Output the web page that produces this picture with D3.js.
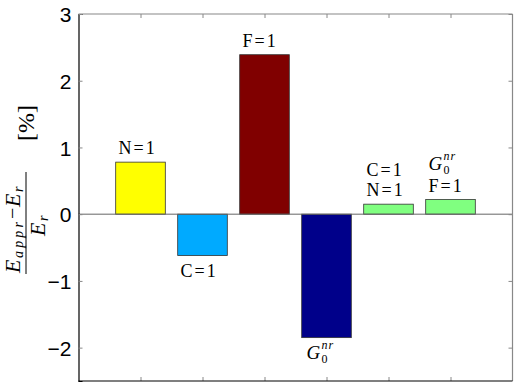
<!DOCTYPE html>
<html>
<head>
<meta charset="utf-8">
<script src="https://cdn.jsdelivr.net/npm/d3@7/dist/d3.min.js"></script>
<style>
  html, body { margin: 0; padding: 0; background: #fff; }
  svg { display: block; }
</style>
</head>
<body>
<svg id="chart" width="518" height="386"></svg>
<script>
// ---- data ----
const categories = [1, 2, 3, 4, 5, 6];
const values = [0.78, -0.62, 2.39, -1.85, 0.15, 0.22];
const barColors = ["#ffff00", "#00aaff", "#800000", "#00008a", "#80ff80", "#80ff80"];
// each label: list of lines; "G0nr" token drawn as G_0^{nr}
const barLabels = [["N=1"], ["C=1"], ["F=1"], ["G0nr"], ["C=1", "N=1"], ["G0nr", "F=1"]];
const yTicks = [-2, -1, 0, 1, 2, 3];
const xTicks = [1, 2, 3, 4, 5, 6];

(function () {
// ---- layout ----
const mLeft = 78.5, mRight = 512.5, mTop = 14, mBottom = 381;
const svg = d3.select("#chart");

const x = d3.scaleLinear().domain([0, 7]).range([mLeft, mRight]);
const y = d3.scaleLinear().domain([-2.5, 3]).range([mBottom, mTop]);
const barW = 0.8;

// bars
svg.append("g").selectAll("rect").data(values).join("rect")
  .attr("x", (d, i) => x(categories[i] - barW / 2))
  .attr("width", (d, i) => x(categories[i] + barW / 2) - x(categories[i] - barW / 2))
  .attr("y", d => y(Math.max(0, d)))
  .attr("height", d => Math.abs(y(d) - y(0)))
  .attr("fill", (d, i) => barColors[i])
  .attr("stroke", "#333")
  .attr("stroke-width", 0.8);

// zero baseline
svg.append("line")
  .attr("x1", mLeft).attr("x2", mRight)
  .attr("y1", y(0)).attr("y2", y(0))
  .attr("stroke", "#666").attr("stroke-width", 1);

// axes box: left/bottom black, top/right gray
svg.append("line").attr("x1", mLeft).attr("x2", mRight).attr("y1", mTop).attr("y2", mTop)
  .attr("stroke", "#888").attr("stroke-width", 1.2);
svg.append("line").attr("x1", mRight).attr("x2", mRight).attr("y1", mTop).attr("y2", mBottom)
  .attr("stroke", "#888").attr("stroke-width", 1.2);

// left axis (ticks inside)
const yAxis = d3.axisLeft(y).tickValues(yTicks).tickSize(-4).tickPadding(7)
  .tickFormat(d => d < 0 ? "\u2212" + Math.abs(d) : String(d));
const gy = svg.append("g").attr("transform", `translate(${mLeft},0)`).call(yAxis);
gy.select(".domain").attr("stroke", "#000").attr("stroke-width", 1.2);
gy.selectAll(".tick line").attr("stroke", "#888");
gy.selectAll(".tick text").attr("font-family", "'Liberation Sans', Arial, sans-serif")
  .attr("font-size", 21).attr("fill", "#000").attr("dy", "0.36em");
// right ticks
const gyr = svg.append("g").attr("transform", `translate(${mRight},0)`)
  .call(d3.axisRight(y).tickValues(yTicks).tickSize(-4).tickFormat(""));
gyr.select(".domain").remove();
gyr.selectAll(".tick line").attr("stroke", "#888");

// bottom axis (ticks inside, no labels)
const gx = svg.append("g").attr("transform", `translate(0,${mBottom})`)
  .call(d3.axisBottom(x).tickValues(xTicks).tickSize(-4).tickFormat(""));
gx.select(".domain").remove();
gx.selectAll(".tick line").attr("stroke", "#888");
svg.append("line").attr("x1", mLeft).attr("x2", mRight).attr("y1", mBottom).attr("y2", mBottom)
  .attr("stroke", "#000").attr("stroke-width", 1.2);
// top ticks
const gxt = svg.append("g").attr("transform", `translate(0,${mTop})`)
  .call(d3.axisTop(x).tickValues(xTicks).tickSize(-4).tickFormat(""));
gxt.select(".domain").remove();
gxt.selectAll(".tick line").attr("stroke", "#888");

// bar labels
const serif = "'Liberation Serif', 'Times New Roman', serif";
function drawLine(g, str, x0, base) {
  const t = g.append("text").attr("x", x0).attr("y", base).attr("font-family", serif).attr("font-size", 18);
  if (str === "G0nr") {
    t.append("tspan").attr("font-style", "italic").attr("font-size", 19).text("G");
    t.append("tspan").attr("x", x0 + 15).attr("dy", -10).attr("font-style", "italic")
      .attr("font-size", 12).attr("letter-spacing", 1).text("nr");
    t.append("tspan").attr("x", x0 + 15).attr("dy", 14).attr("font-size", 12).text("0");
  } else {
    const parts = str.split("=");
    t.append("tspan").text(parts[0]);
    t.append("tspan").attr("dx", 2).text("=");
    t.append("tspan").attr("dx", 2).text(parts[1]);
  }
}
const gap = s => (s === "G0nr" ? 22 : 20);
const gl = svg.append("g").attr("fill", "#000");
values.forEach((v, i) => {
  const lines = barLabels[i];
  const x0 = x(categories[i]) - 22;
  if (v >= 0) {
    let base = y(v) - 8;
    for (let k = lines.length - 1; k >= 0; k--) {
      drawLine(gl, lines[k], x0, base);
      if (k > 0) base -= gap(lines[k - 1]);
    }
  } else {
    let base = y(v) + 21;
    lines.forEach((s, k) => {
      drawLine(gl, s, x0 + (s === "G0nr" ? 2 : 0), base);
      base += gap(s);
    });
  }
});

// y-axis label (rotated fraction)
const gL = svg.append("g").attr("transform", "translate(26,222) rotate(-90)")
  .attr("font-family", serif).attr("fill", "#000");
// numerator: E_appr − E_r
const num = gL.append("text").attr("x", -51).attr("y", -6).attr("font-size", 22).attr("font-style", "italic");
num.append("tspan").text("E");
num.append("tspan").attr("x", -36).attr("dy", 3).attr("font-size", 14)
  .attr("textLength", 36).attr("lengthAdjust", "spacing").text("appr");
num.append("tspan").attr("x", 3).attr("dy", -4).attr("font-style", "normal").attr("font-size", 20).text("\u2212");
num.append("tspan").attr("x", 15).attr("dy", 1).text("E");
num.append("tspan").attr("x", 30).attr("dy", 3).attr("font-size", 14).text("r");
// fraction bar
gL.append("line").attr("x1", -52).attr("x2", 50).attr("y1", 0).attr("y2", 0)
  .attr("stroke", "#000").attr("stroke-width", 1);
// denominator: E_r
const den = gL.append("text").attr("x", -14).attr("y", 19).attr("font-size", 22).attr("font-style", "italic");
den.append("tspan").text("E");
den.append("tspan").attr("x", 1).attr("dy", 3).attr("font-size", 14).text("r");
// [%]
gL.append("text").attr("x", 81).attr("y", 8).attr("font-size", 24).text("[%]");
})();
</script>
</body>
</html>
